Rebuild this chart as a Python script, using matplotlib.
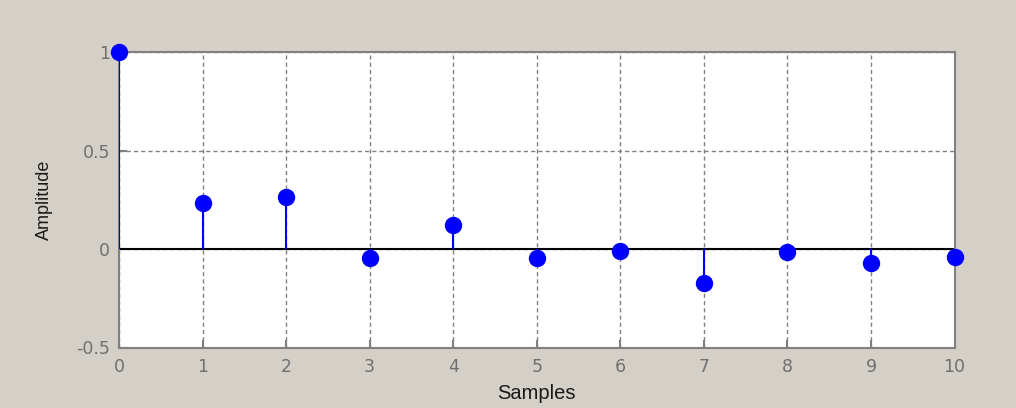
import matplotlib
matplotlib.use("Agg")
import matplotlib.pyplot as plt

samples = [0, 1, 2, 3, 4, 5, 6, 7, 8, 9, 10]
amplitude = [1.0, 0.233, 0.267, -0.046, 0.124, -0.046, -0.009, -0.17, -0.017, -0.071, -0.038]
xticks = [0, 1, 2, 3, 4, 5, 6, 7, 8, 9, 10]
yticks = [-0.5, 0, 0.5, 1]
ytick_labels = ["-0.5", "0", "0.5", "1"]

plt.rcParams['font.family'] = ['Liberation Sans', 'DejaVu Sans']

fig = plt.figure(figsize=(10.16, 4.08), dpi=100, facecolor='#d4d0c8')
ax = fig.add_axes([119/1016, 1 - 347.5/408, (954.5 - 119)/1016, (347.5 - 52.3)/408])
ax.set_facecolor('white')

ax.set_xlim(0, 10)
ax.set_ylim(-0.5, 1)
ax.set_xticks(xticks)
ax.set_yticks(yticks)
ax.set_yticklabels(ytick_labels)

ax.grid(True, color='#808080', linestyle=(0, (3, 2.2)), linewidth=1.0)
ax.set_axisbelow(True)

ax.axhline(0, color='black', linewidth=1.5, zorder=2)
ax.vlines(samples, 0, amplitude, color='#0000ff', linewidth=1.5, zorder=3)
ax.plot(samples, amplitude, linestyle='none', marker='o', markersize=11.5,
        markerfacecolor='#0000ff', markeredgecolor='#0000ff', zorder=4, clip_on=False)

for s in ax.spines.values():
    s.set_color('#808080')
    s.set_linewidth(1.5)

ax.tick_params(direction='in', length=6, width=1.5, color='#808080',
               labelcolor='#707070', labelsize=12.5)
ax.tick_params(axis='x', pad=7.5)
ax.tick_params(axis='y', pad=6.5)
for lbl in ax.get_xticklabels() + ax.get_yticklabels():
    lbl.set_family(['DejaVu Sans'])

ax.set_xlabel('Samples', fontsize=14.5, color='#1a1a1a', labelpad=6)
ax.set_ylabel('Amplitude', fontsize=13, color='#1a1a1a', labelpad=16.5)

fig.savefig('out.png', dpi=100, facecolor=fig.get_facecolor())
